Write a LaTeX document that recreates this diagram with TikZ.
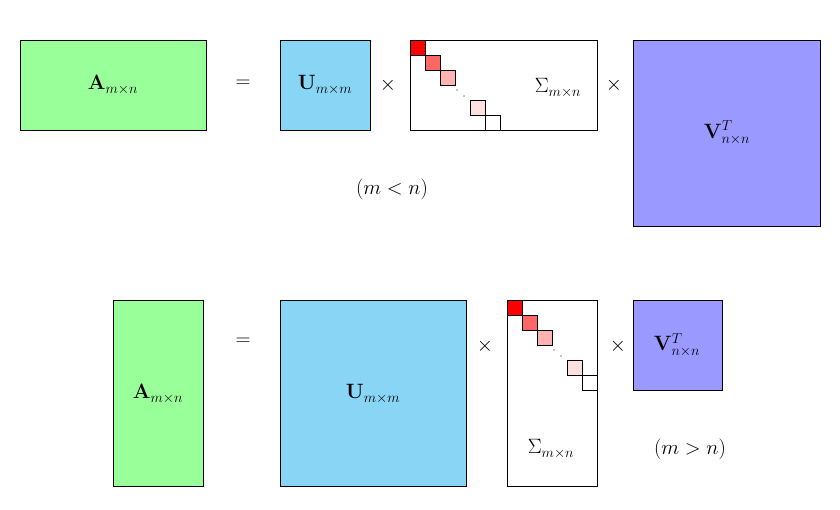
\documentclass[tikz,border=0pt]{standalone}
\begin{document}
\begin{tikzpicture}[x=1pt,y=-1pt,
 mat/.style={draw=black,line width=0.8pt},
 lab/.style={font=\huge,inner sep=1pt},
 sq/.style={draw=black,line width=0.6pt}]
\definecolor{ga}{HTML}{99FF99}
\definecolor{bu}{HTML}{89D5F5}
\definecolor{vv}{HTML}{9999FF}
\useasboundingbox[fill=white] (0,0) rectangle (840,509);
% top
\path[mat,fill=ga] (20,40) rectangle (206,130);
\node[lab] (a1) at (113,85) {$\mathbf{A}_{m\times n}$};
\node[lab] (e1) at (243,84) {$=$};
\path[mat,fill=bu] (280,40) rectangle (370,130);
\node[lab] (u1) at (325,85) {$\mathbf{U}_{m\times m}$};
\node[lab] (x1) at (388,85) {$\times$};
\path[mat] (410,40) rectangle (597,130);
\path[sq,fill=red] (410,40) rectangle (425,55);
\path[sq,fill=red!60] (425,55) rectangle (440,70);
\path[sq,fill=red!30] (440,70) rectangle (455,85);
\fill (457,90) circle (0.7) (464,96) circle (0.7);
\path[sq,fill=red!12] (470,100) rectangle (485,115);
\path[sq] (485,115) rectangle (500,130);
\node[lab] (s1) at (558,88) {$\Sigma_{m\times n}$};
\node[lab] (x2) at (614,85) {$\times$};
\path[mat,fill=vv] (633,40) rectangle (820,226);
\node[lab] (v1) at (727,133) {$\mathbf{V}^T_{n\times n}$};
\node[lab] (c1) at (392,189) {$(m<n)$};
% bottom
\path[mat,fill=ga] (113,300) rectangle (203,486);
\node[lab] (a2) at (158,394) {$\mathbf{A}_{m\times n}$};
\node[lab] (e2) at (243,342) {$=$};
\path[mat,fill=bu] (280,300) rectangle (466,486);
\node[lab] (u2) at (373,394) {$\mathbf{U}_{m\times m}$};
\node[lab] (x3) at (485,346) {$\times$};
\path[mat] (507,300) rectangle (597,486);
\path[sq,fill=red] (507,300) rectangle (522,315);
\path[sq,fill=red!60] (522,315) rectangle (537,330);
\path[sq,fill=red!30] (537,330) rectangle (552,345);
\fill (554,350) circle (0.7) (561,356) circle (0.7);
\path[sq,fill=red!12] (567,360) rectangle (582,375);
\path[sq] (582,375) rectangle (597,390);
\node[lab] (s2) at (551,449) {$\Sigma_{m\times n}$};
\node[lab] (x4) at (618,346) {$\times$};
\path[mat,fill=vv] (633,300) rectangle (722,390);
\node[lab] (v2) at (677,345) {$\mathbf{V}^T_{n\times n}$};
\node[lab] (c2) at (690,449) {$(m>n)$};
\end{tikzpicture}
\end{document}
